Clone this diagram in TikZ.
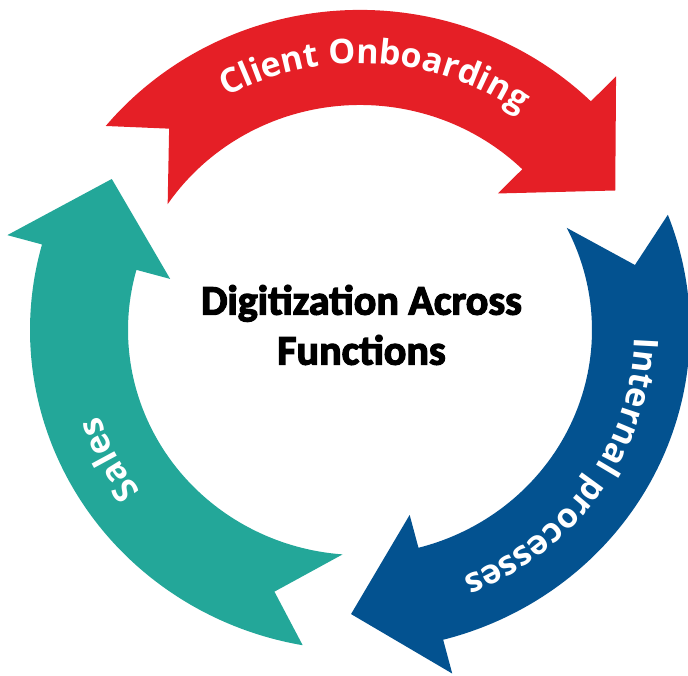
\documentclass[tikz,border=0pt]{standalone}
\usepackage{fontspec}
\setmainfont{Carlito}[BoldFeatures={FakeBold=3}]
\newfontfamily\labelfont{Open Sans}
\usetikzlibrary{decorations.text}

\definecolor{onbred}{RGB}{229,31,38}
\definecolor{procblue}{RGB}{3,82,144}
\definecolor{salesteal}{RGB}{35,167,153}

\tikzset{
  arclabel/.style={decorate,decoration={text along path,text align=center,text color=white,
    text={|\labelfont\bfseries\fontsize{34}{40}\selectfont|#1}}}
}

\begin{document}
\begin{tikzpicture}
\useasboundingbox (-360pt,-345pt) rectangle (328pt,330pt);
\begin{scope}[yscale=0.97]
% client onboarding
\fill[onbred] (140.4:330pt) arc[start angle=140.4,end angle=45.6,radius=330pt]
  -- (45.6:366pt) -- (29.4:293pt) -- (45.6:197pt) -- (45.6:232pt)
  arc[start angle=45.6,end angle=146,radius=232pt] -- (132.6:282pt) -- cycle;
% internal processes
\fill[procblue] (21.1:330pt) arc[start angle=21.1,end angle=-75.4,radius=330pt]
  -- (-75.4:366pt) -- (-91.75:293pt) -- (-75.4:197pt) -- (-75.4:232pt)
  arc[start angle=-75.4,end angle=27,radius=232pt] -- (13.7:283pt) -- cycle;
% sales
\fill[salesteal] (260:330pt) arc[start angle=260,end angle=164.5,radius=330pt]
  -- (164.5:366pt) -- (147.9:293pt) -- (164.5:197pt) -- (164.5:232pt)
  arc[start angle=164.5,end angle=265.7,radius=232pt] -- (252.4:283pt) -- cycle;
% labels along the bands
\path[arclabel=Client Onboarding] (156.7:275pt) arc[start angle=156.7,end angle=16.7,radius=275pt];
\path[arclabel=Internal processes] (35.6:275pt) arc[start angle=35.6,end angle=-104.4,radius=275pt];
\path[arclabel=Sales] (277.3:275pt) arc[start angle=277.3,end angle=137.3,radius=275pt];
\end{scope}
\node[align=center,font=\bfseries\fontsize{42}{50}\selectfont] (title) at (1.5pt,5pt) {Digitization Across\\Functions};
\end{tikzpicture}
\end{document}
